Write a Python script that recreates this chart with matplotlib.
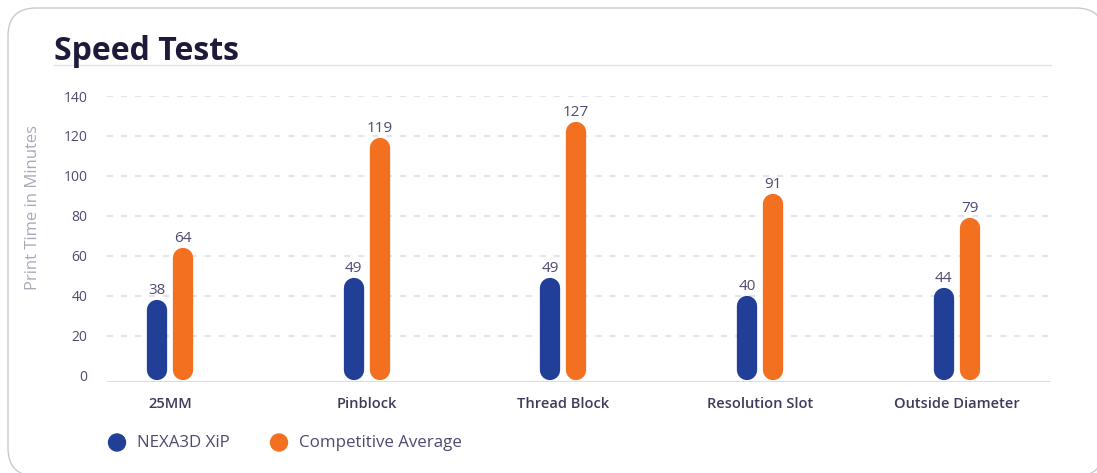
import matplotlib
matplotlib.use("Agg")
import matplotlib.pyplot as plt
from matplotlib.patches import FancyBboxPatch, Circle

# data
categories = ["25MM", "Pinblock", "Thread Block", "Resolution Slot", "Outside Diameter"]
nexa = [38, 49, 49, 40, 44]
competitive = [64, 119, 127, 91, 79]
series_names = ["NEXA3D XiP", "Competitive Average"]
y_ticks = [0, 20, 40, 60, 80, 100, 120, 140]

blue = "#223f98"
orange = "#f37021"
text_col = "#4d4b6e"

plt.rcParams['font.family'] = ['Open Sans', 'DejaVu Sans']

W, H = 1097, 473
fig = plt.figure(figsize=(W / 100, H / 100), dpi=100)

# background layer in pixel units
bg = fig.add_axes([0, 0, 1, 1])
bg.set_xlim(0, W)
bg.set_ylim(H, 0)
bg.axis("off")
card = FancyBboxPatch((8, 8), 1096, 468, boxstyle="round,pad=0,rounding_size=28",
                      facecolor="white", edgecolor="#c9c9d2", lw=1.0)
bg.add_patch(card)
bg.text(54, 60, "Speed Tests", fontsize=23, fontweight="bold", color="#1e1b3a",
        ha="left", va="baseline")
bg.plot([54, 1051], [65.5, 65.5], color="#e3e3ec", lw=1.0)

# legend
for cx, tx, col, name in [(117, 137, blue, series_names[0]), (279, 299, orange, series_names[1])]:
    bg.add_patch(Circle((cx, 442.5), 8.5, color=col))
    bg.text(tx, 443, name, fontsize=12.2, color=text_col, ha="left", va="center")

bg.text(33, 207, "Print Time in Minutes", fontsize=12, color="#a9a9bb",
        rotation=90, ha="center", va="center")

# chart
ax = fig.add_axes([107 / W, (H - 381.7) / H, (1051 - 107) / W, (381.7 - 96) / H])
ax.patch.set_alpha(0)
ymin, ymax = -3.05, 140
ax.set_ylim(ymin, ymax)
ax.set_xlim(-0.32, 4.48)
for s in ax.spines.values():
    s.set_visible(False)
ax.axhline(ymin, color="#dcdcea", lw=1.6, zorder=1)

for t in y_ticks[1:]:
    ax.axhline(t, color="#e4e4ee", lw=1.5, linestyle=(0, (2.9, 3.8)), zorder=0)

ax.set_yticks(y_ticks)
ax.set_yticklabels([str(t) for t in y_ticks], fontsize=10, color=text_col)
ax.tick_params(axis="y", length=0, pad=14)
ax.set_xticks(range(len(categories)))
ax.set_xticklabels(categories, fontsize=10.5, color="#3d3b5c", fontweight="semibold")
ax.tick_params(axis="x", length=0, pad=11)

px_per_unit = (381.7 - 96) / (ymax - ymin)
r = 10 / px_per_unit
bottom = -2.2
off = 13 / 196.75
for i in range(len(categories)):
    for dx, v, col in [(-off, nexa[i], blue), (off, competitive[i], orange)]:
        ax.plot([i + dx, i + dx], [bottom + r, v - r], color=col, lw=14.6,
                solid_capstyle="round", zorder=3)
        ax.text(i + dx, v + 0.8, str(v), fontsize=11, color=text_col,
                ha="center", va="bottom", zorder=4)

fig.savefig("out.png", dpi=100)
